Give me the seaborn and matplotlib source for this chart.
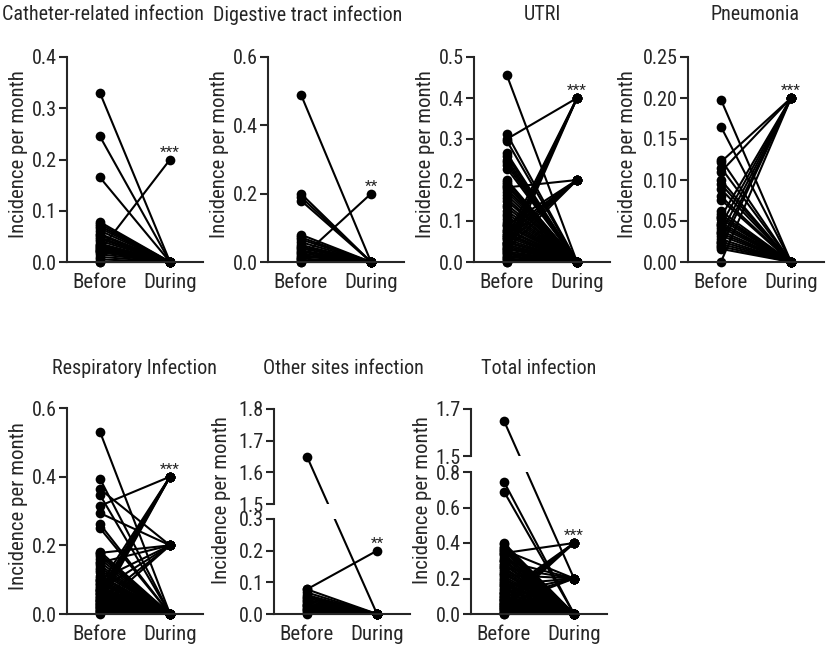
import numpy as np
import pandas as pd
import matplotlib
matplotlib.use("Agg")
import matplotlib.pyplot as plt
import seaborn as sb

#%% Data: "before" incidence per patient, grouped by the incidence during the period

cath_to_0 = [0.33, 0.245, 0.165, 0.078, 0.074, 0.070, 0.066, 0.061, 0.055, 0.052, 0.048,
             0.045, 0.041, 0.036, 0.033, 0.031, 0.029, 0.027, 0.025, 0.023, 0.021, 0.019,
             0.015, 0.010, 0.005, 0.0, 0.0]
cath_to_02 = [0.022]

dig_to_0 = [0.49, 0.20, 0.19, 0.18, 0.08, 0.072, 0.066, 0.058, 0.05, 0.045, 0.04, 0.034,
            0.03, 0.025, 0.02, 0.016, 0.01, 0.005, 0.0, 0.0]
dig_to_02 = [0.012]

utri_to_0 = [0.455, 0.312, 0.295, 0.265, 0.258, 0.25, 0.243, 0.236, 0.228, 0.20, 0.196,
             0.19, 0.185, 0.178, 0.171, 0.163, 0.155, 0.149, 0.14, 0.133, 0.125, 0.118,
             0.111, 0.104, 0.098, 0.092, 0.087, 0.08, 0.076, 0.07, 0.066, 0.061, 0.055,
             0.05, 0.047, 0.042, 0.038, 0.034, 0.031, 0.026, 0.022, 0.019, 0.015, 0.012,
             0.008, 0.005, 0.0, 0.0]
utri_to_02 = [0.182, 0.09, 0.076, 0.066, 0.056, 0.045, 0.03]
utri_to_04 = [0.30, 0.06, 0.046, 0.035, 0.024, 0.01]

pneu_to_0 = [0.198, 0.165, 0.125, 0.115, 0.10, 0.095, 0.089, 0.08, 0.076, 0.062, 0.058,
             0.055, 0.052, 0.048, 0.045, 0.042, 0.038, 0.035, 0.032, 0.028, 0.025, 0.022,
             0.019, 0.016]
pneu_to_02 = [0.122, 0.11, 0.055, 0.045, 0.035, 0.025, 0.018, 0.0]

resp_to_0 = [0.531, 0.394, 0.347, 0.262, 0.25, 0.182, 0.175, 0.168, 0.16, 0.151, 0.142,
             0.135, 0.128, 0.121, 0.112, 0.106, 0.10, 0.095, 0.09, 0.086, 0.08, 0.075,
             0.071, 0.066, 0.062, 0.058, 0.054, 0.05, 0.046, 0.042, 0.038, 0.035, 0.032,
             0.029, 0.026, 0.023, 0.02, 0.018, 0.015, 0.012, 0.01, 0.008, 0.005, 0.003, 0.0]
resp_to_02 = [0.364, 0.294, 0.178, 0.15, 0.10, 0.07, 0.04, 0.02]
resp_to_04 = [0.315, 0.085, 0.07, 0.06, 0.05, 0.04, 0.03]

other_to_0 = [1.65, 0.078, 0.068, 0.06, 0.055, 0.05, 0.045, 0.04, 0.035, 0.03, 0.027,
              0.024, 0.02, 0.016, 0.012, 0.008, 0.004, 0.0]
other_to_02 = [0.078]

total_to_0 = [0.745, 0.69, 0.40, 0.392, 0.38, 0.371, 0.36, 0.352, 0.338, 0.33, 0.318,
              0.305, 0.297, 0.284, 0.276, 0.262, 0.255, 0.243, 0.232, 0.224, 0.211, 0.2,
              0.193, 0.18, 0.172, 0.164, 0.15, 0.143, 0.134, 0.122, 0.115, 0.104, 0.097,
              0.09, 0.083, 0.078, 0.07, 0.064, 0.058, 0.052, 0.046, 0.04, 0.035, 0.03,
              0.026, 0.021, 0.017, 0.012, 0.008, 0.004, 0.0, 0.0]
total_to_02 = [1.65, 0.36, 0.30, 0.262, 0.22, 0.165, 0.12, 0.08, 0.05]
total_to_04 = [0.343, 0.12, 0.10, 0.08, 0.06, 0.04]

#%% Style

sb.set_style("ticks")
plt.rcParams["font.family"] = ["Liberation Sans Narrow", "Roboto Condensed",
                               "IBM Plex Sans Condensed", "DejaVu Sans"]
plt.rcParams["font.size"] = 15

W, H = 829, 653
LW = 1.5
MS = 7
fig = plt.figure(figsize=(W / 100, H / 100), dpi=100)


def pairs(groups):
    rows = []
    k = 0
    for during, befores in groups:
        for b in befores:
            rows.append((k, 0, b))
            rows.append((k, 1, during))
            k += 1
    return pd.DataFrame(rows, columns=["id", "phase", "value"])


def box(x, ytop, ybot, w=136):
    return [x / W, (H - ybot) / H, w / W, (ybot - ytop) / H]


def setup(ax, ylim, yticks, fmt, bottom=True):
    ax.set_xlim(-0.47, 1.47)
    ax.set_ylim(*ylim)
    ax.set_yticks(yticks)
    ax.set_yticklabels([fmt % t for t in yticks])
    sb.despine(ax=ax, bottom=not bottom)
    for s in ax.spines.values():
        s.set_linewidth(1.5)
    ax.tick_params(axis="y", width=1.5, length=6, pad=1.5, labelsize=14.5)
    if bottom:
        ax.set_xticks([0, 1])
        ax.set_xticklabels(["Before", "During"])
        ax.tick_params(axis="x", length=0, pad=8, labelsize=15)
    else:
        ax.set_xticks([])
    ax.set_xlabel("")
    ax.set_ylabel("")


def draw(ax, df):
    sb.lineplot(data=df, x="phase", y="value", units="id", estimator=None,
                color="black", lw=LW, marker="o", ms=MS, mew=0, ax=ax, legend=False)
    for ln in ax.lines:
        ln.set_clip_on(False)


def stars(ax, txt, val):
    ax.annotate(txt, (1, val), xytext=(0, 2), textcoords="offset points",
                ha="center", va="baseline", fontsize=11, annotation_clip=False)


def cross(ax_top, ax_bot, y_before, y_during):
    # one line drawn straight across the axis break, clipped by each part
    t0, t1 = ax_top.get_ylim()
    b0, b1 = ax_bot.get_ylim()
    pt = ax_top.get_position()
    pb = ax_bot.get_position()
    fy_b = pt.y0 + (y_before - t0) / (t1 - t0) * pt.height
    fy_d = pb.y0 + (y_during - b0) / (b1 - b0) * pb.height
    in_bot = b0 + (fy_b - pb.y0) / pb.height * (b1 - b0)
    in_top = t0 + (fy_d - pt.y0) / pt.height * (t1 - t0)
    ax_top.plot([0, 1], [y_before, in_top], color="black", lw=LW)
    ax_bot.plot([0, 1], [in_bot, y_during], color="black", lw=LW)
    ax_top.plot([0], [y_before], "o", color="black", ms=MS, mew=0, clip_on=False)
    ax_bot.plot([1], [y_during], "o", color="black", ms=MS, mew=0, clip_on=False)


def ylabel(x, y):
    fig.text(x / W, 1 - y / H, "Incidence per month", rotation=90,
             ha="center", va="center", fontsize=15)


def title(x, y, txt):
    fig.text(x / W, 1 - y / H, txt, ha="center", va="center", fontsize=14.5)


#%% Simple panels

simple = [
    ("Catheter-related infection", [(0.0, cath_to_0), (0.2, cath_to_02)],
     (0, 0.4), [0, 0.1, 0.2, 0.3, 0.4], "%.1f", "***", 0.2, 67, 57, 262, 103, 15, 19),
    ("Digestive tract infection", [(0.0, dig_to_0), (0.2, dig_to_02)],
     (0, 0.6), [0, 0.2, 0.4, 0.6], "%.1f", "**", 0.2, 268, 57, 262, 308, 15, 220),
    ("UTRI", [(0.0, utri_to_0), (0.2, utri_to_02), (0.4, utri_to_04)],
     (0, 0.5), [0, 0.1, 0.2, 0.3, 0.4, 0.5], "%.1f", "***", 0.4, 474, 57, 262, 542, 15, 426),
    ("Pneumonia", [(0.0, pneu_to_0), (0.2, pneu_to_02)],
     (0, 0.25), [0, 0.05, 0.1, 0.15, 0.2, 0.25], "%.2f", "***", 0.2, 688, 57, 262, 755, 15, 628),
    ("Respiratory Infection", [(0.0, resp_to_0), (0.2, resp_to_02), (0.4, resp_to_04)],
     (0, 0.6), [0, 0.2, 0.4, 0.6], "%.1f", "***", 0.4, 67, 408, 614, 134, 368, 19),
]

for (name, groups, ylim, yt, fmt, st, st_val, x0, ytop, ybot, tx, ty, lx) in simple:
    ax = fig.add_axes(box(x0, ytop, ybot))
    draw(ax, pairs(groups))
    setup(ax, ylim, yt, fmt)
    stars(ax, st, st_val)
    title(tx, ty, name)
    ylabel(lx, (ytop + ybot) / 2 - 5)

#%% Broken-axis panels

broken = [
    ("Other sites infection", [(0.0, other_to_0), (0.2, other_to_02)],
     (1.5, 1.8), [1.5, 1.6, 1.7, 1.8], (0, 0.3), [0, 0.1, 0.2, 0.3],
     "**", 0.2, 274, (409, 504), (519, 614), 343, 368, 222),
    ("Total infection", [(0.0, total_to_0), (0.2, total_to_02), (0.4, total_to_04)],
     (1.5, 1.7), [1.5, 1.7], (0, 0.8), [0, 0.2, 0.4, 0.6, 0.8],
     "***", 0.4, 471, (409, 456), (472, 614), 539, 368, 423),
]

for (name, groups, tlim, tt, blim, bt, st, st_val, x0, tpos, bpos, tx, ty, lx) in broken:
    df = pairs(groups)
    ids_hi = df.loc[df["value"] > blim[1], "id"].unique()
    ax_t = fig.add_axes(box(x0, *tpos))
    ax_b = fig.add_axes(box(x0, *bpos))
    draw(ax_b, df[~df["id"].isin(ids_hi)])
    setup(ax_t, tlim, tt, "%.1f", bottom=False)
    setup(ax_b, blim, bt, "%.1f")
    for i in ids_hi:
        sub = df[df["id"] == i].sort_values("phase")["value"].to_numpy()
        cross(ax_t, ax_b, sub[0], sub[1])
    stars(ax_b, st, st_val)
    title(tx, ty, name)
    ylabel(lx, 500)

fig.savefig("out.png", dpi=100)
